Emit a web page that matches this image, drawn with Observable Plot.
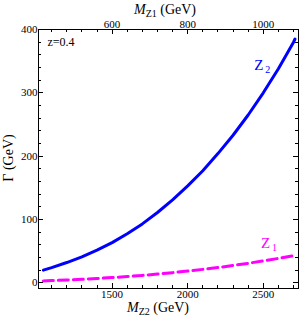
<!DOCTYPE html>
<html><head><meta charset="utf-8">
<script src="https://cdn.jsdelivr.net/npm/d3@7"></script>
<script src="https://cdn.jsdelivr.net/npm/@observablehq/plot@0.6"></script>
<style>
body{margin:0;background:#fff;}
#chart svg{display:block;}
</style></head><body><div id="chart"></div>
<script>
// M_Z2 (GeV)
const mZ2 = [1045,1100,1200,1300,1400,1500,1600,1700,1800,1900,2000,2100,2200,2300,2400,2500,2600,2700,2710];
// Γ(Z2) (GeV)
const gammaZ2 = [20,24,32,41,51.5,63.5,77.5,93,111,131,153,177,204,233,265,300,338,380,385];
// Γ(Z1) (GeV)
const gammaZ1 = [3.0,3.5,4.4,5.5,6.8,8.3,9.9,11.7,13.8,16.0,18.5,21.2,24.1,27.3,30.8,34.5,38.5,42.8,43.3];
const zRatio = 0.4;
const xMajor = [1500,2000,2500];
const xMinor = [1100,1200,1300,1400,1600,1700,1800,1900,2100,2200,2300,2400,2600,2700];
const topTickLabels = [600,800,1000];
const yMajor = [0,100,200,300,400];
const yMinor = [20,40,60,80,120,140,160,180,220,240,260,280,320,340,360,380];
const curveNames = ["Z","Z"];
const curveSubs = ["2","1"];
const curveColors = ["#0000ff","#ff00ff"];
const labelX = [2470,2515];
const labelY = [343,62];

(function () {
const data = mZ2.map((m,i)=>({m, z2: gammaZ2[i], z1: gammaZ1[i]}));
const labels = curveNames.map((n,i)=>({n, s: curveSubs[i], c: curveColors[i], x: labelX[i], y: labelY[i]}));
const topTicks = topTickLabels.map(v => v / zRatio);

const font = "'Liberation Serif','Times New Roman',serif";
const fmt = d => String(Math.round(d));
const W = 300, H = 316, mL = 38, mR = 2, mT = 29, mB = 28;

const svg = Plot.plot({
  width: W, height: H,
  marginLeft: mL, marginRight: mR, marginTop: mT, marginBottom: mB,
  style: {fontFamily: font, fontSize: "11px", background: "#fff", color: "#000"},
  x: {domain: [1013, 2733]},
  y: {domain: [-9, 400]},
  marks: [
    Plot.line(data, {x: "m", y: "z1", stroke: curveColors[1], strokeWidth: 3, strokeDasharray: "10,5"}),
    Plot.line(data, {x: "m", y: "z2", stroke: curveColors[0], strokeWidth: 3}),
    Plot.frame({stroke: "#000", strokeWidth: 1}),
    Plot.axisX(xMajor, {anchor: "bottom", tickSize: 0, tickPadding: 2, label: null, fontSize: 11, tickFormat: fmt}),
    Plot.axisX(topTicks, {anchor: "top", tickSize: 0, tickPadding: 2, label: null, fontSize: 11, tickFormat: d => fmt(d * zRatio)}),
    Plot.axisY(yMajor, {anchor: "left", tickSize: 0, tickPadding: 1, label: null, fontSize: 11, tickFormat: fmt}),
    Plot.text(["z=0.4"], {frameAnchor: "top-left", dx: 9, dy: 8, textAnchor: "start", lineAnchor: "top", fontSize: 12, fill: "#000"}),
    Plot.text(labels, {x: "x", y: "y", text: "n", fill: "c", fontSize: 15}),
    Plot.text(labels, {x: "x", y: "y", text: "s", fill: "c", fontSize: 10, dx: 9, dy: 4})
  ]
});

const s = d3.select(svg);
const xs = svg.scale("x"), ys = svg.scale("y");
const g = s.append("g").attr("stroke", "#000").attr("stroke-width", 1);
const yTop = mT, yBot = H - mB, xLeft = mL, xRight = W - mR;
function xTicks(vals, len) {
  for (const v of vals) {
    const px = Math.round(xs.apply(v)) + 0.5;
    g.append("line").attr("x1", px).attr("x2", px).attr("y1", yBot).attr("y2", yBot - len);
    g.append("line").attr("x1", px).attr("x2", px).attr("y1", yTop).attr("y2", yTop + len);
  }
}
function yTicks(vals, len) {
  for (const v of vals) {
    const py = Math.round(ys.apply(v)) + 0.5;
    g.append("line").attr("y1", py).attr("y2", py).attr("x1", xLeft).attr("x2", xLeft + len);
    g.append("line").attr("y1", py).attr("y2", py).attr("x1", xRight).attr("x2", xRight - len);
  }
}
xTicks(xMajor, 5); xTicks(xMinor, 3);
yTicks(yMajor, 5); yTicks(yMinor, 3);

function title(x, y, rotate, parts) {
  const t = s.append("text")
    .attr("transform", `translate(${x},${y}) rotate(${rotate})`)
    .attr("text-anchor", "middle")
    .attr("font-family", font)
    .attr("font-size", 14)
    .attr("fill", "#000");
  for (const p of parts) {
    const ts = t.append("tspan").text(p.t);
    if (p.i) ts.attr("font-style", "italic");
    if (p.sub) ts.attr("font-size", 10).attr("dy", 3);
    if (p.up) ts.attr("dy", -3);
  }
}
title(158, 312, 0, [{t: "M", i: true}, {t: "Z2", sub: true}, {t: " (GeV)", up: true}]);
title(165, 14, 0, [{t: "M", i: true}, {t: "Z1", sub: true}, {t: " (GeV)", up: true}]);
title(13, 158, -90, [{t: "Γ (GeV)"}]);

document.getElementById("chart").appendChild(svg);
})();
</script>
</body></html>
